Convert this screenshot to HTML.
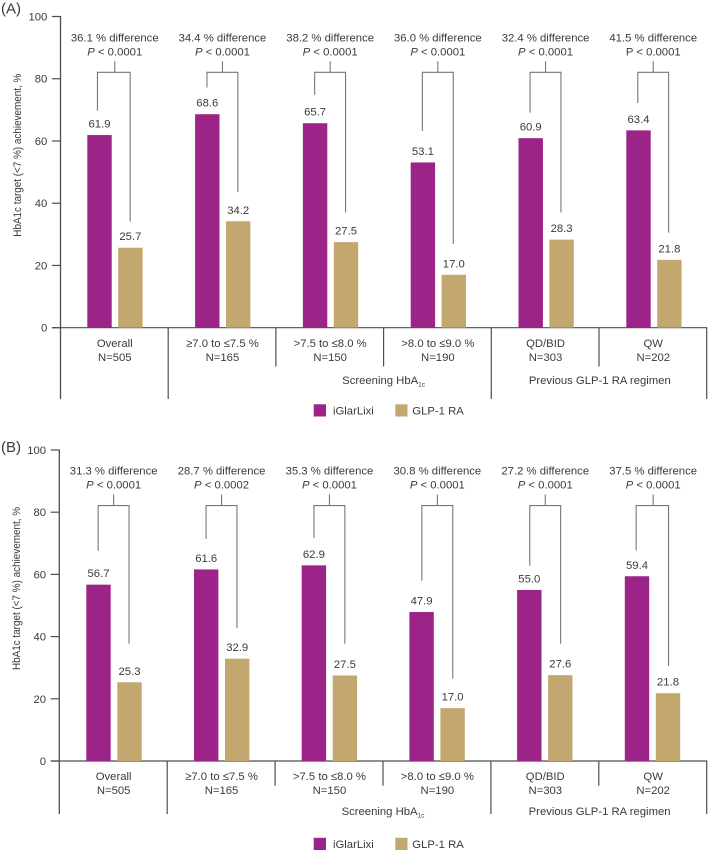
<!DOCTYPE html>
<html lang="en">
<head>
<meta charset="utf-8">
<title>HbA1c target achievement by subgroup</title>
<style>
html,body{margin:0;padding:0;background:#fff;width:709px;height:850px;overflow:hidden}
svg{display:block}
text{font-family:"Liberation Sans",sans-serif;font-size:11.3px;fill:#3a3a3a}
</style>
</head>
<body>
<svg id="chart" xmlns="http://www.w3.org/2000/svg" width="709" height="850" viewBox="0 0 709 850"></svg>
<script>
// Shared categories and axis ticks
const categoryNames = ["Overall", "≥7.0 to ≤7.5 %", ">7.5 to ≤8.0 %", ">8.0 to ≤9.0 %", "QD/BID", "QW"];
const categoryCounts = ["N=505", "N=165", "N=150", "N=190", "N=303", "N=202"];
const tickValues = [0, 20, 40, 60, 80, 100];

// Panel A series
const iglarA = [61.9, 68.6, 65.7, 53.1, 60.9, 63.4];
const glpA = [25.7, 34.2, 27.5, 17.0, 28.3, 21.8];
const diffA = ["36.1", "34.4", "38.2", "36.0", "32.4", "41.5"];
const pValueA = ["0.0001", "0.0001", "0.0001", "0.0001", "0.0001", "0.0001"];
const bracketLeftEndA = [69.7, 77.2, 74.8, 63.2, 69.1, 72.2];
const bracketRightEndA = [34.1, 43.6, 37.0, 26.9, 37.0, 30.5];

// Panel B series
const iglarB = [56.7, 61.6, 62.9, 47.9, 55.0, 59.4];
const glpB = [25.3, 32.9, 27.5, 17.0, 27.6, 21.8];
const diffB = ["31.3", "28.7", "35.3", "30.8", "27.2", "37.5"];
const pValueB = ["0.0001", "0.0002", "0.0001", "0.0001", "0.0001", "0.0001"];
const bracketLeftEndB = [67.6, 71.4, 71.7, 58.0, 62.8, 67.7];
const bracketRightEndB = [37.7, 42.7, 37.7, 26.5, 37.7, 30.6];

const PURPLE = "#9c2387";
const TAN = "#c2a76f";
const AXIS = "#4e4e4e";
const BRACKET = "#777777";
const svg = document.getElementById("chart");
const NS = "http://www.w3.org/2000/svg";

function make(parent, tag, attrs, content) {
  const el = document.createElementNS(NS, tag);
  for (const k in attrs) el.setAttribute(k, attrs[k]);
  if (content !== undefined) el.textContent = content;
  parent.appendChild(el);
  return el;
}

function drawPanel(p) {
  const g = make(svg, "g", {});
  
  

  const yScale = v => p.y0 - v * p.pxPerUnit;
  const barX = (i, series) => p.barStart + i * p.barStep + series * p.barGap;
  const cellEdge = i => p.axisX + i * p.cellStep;
  const cellMid = i => cellEdge(i) + p.cellStep / 2 + 0.4;

  const letter = make(g, "text", {x: 1, y: p.letterY, style: "font-size:15px"}, p.letter);
  
  

  const title = make(g, "text", {
    x: 0, y: 0, "text-anchor": "middle", textLength: 163, lengthAdjust: "spacingAndGlyphs",
    style: "font-size:10.6px",
    transform: "translate(" + p.titleX + " " + (p.y0 - 172.5) + ") rotate(-90)"
  }, "HbA1c target (<7 %) achievement, %");
  
  

  const yAxis = make(g, "line", {x1: p.axisX, x2: p.axisX, y1: yScale(100) - 0.5, y2: p.y0 + p.longDrop, stroke: AXIS, "stroke-width": 1.3});
  
  

  tickValues.forEach(t => {
    const tick = make(g, "line", {x1: p.axisX - 8.6, x2: p.axisX, y1: yScale(t), y2: yScale(t), stroke: AXIS, "stroke-width": 1.2});
    
    
    const lab = make(g, "text", {x: p.axisX - 13.2, y: yScale(t) + 4, "text-anchor": "end"}, String(t));
    
    
  });

  const xAxis = make(g, "line", {x1: p.axisX - 8.6, x2: cellEdge(6) + 0.5, y1: p.y0, y2: p.y0, stroke: AXIS, "stroke-width": 1.2});
  
  

  for (let i = 1; i <= 6; i++) {
    const isShort = i === 2 || i === 3 || i === 5;
    const divider = make(g, "line", {x1: cellEdge(i), x2: cellEdge(i), y1: p.y0, y2: p.y0 + (isShort ? p.shortDrop : p.longDrop), stroke: AXIS, "stroke-width": 1.2});
    
    
  }

  categoryNames.forEach((name, i) => {
    const mid = cellMid(i);

    const iglarBar = make(g, "rect", {x: barX(i, 0), y: yScale(p.iglar[i]), width: 24.4, height: p.iglar[i] * p.pxPerUnit, fill: PURPLE});
    
    

    const glpBar = make(g, "rect", {x: barX(i, 1), y: yScale(p.glp[i]), width: 24.4, height: p.glp[i] * p.pxPerUnit, fill: TAN});
    
    

    const iglarValue = make(g, "text", {x: barX(i, 0) + 12.2, y: yScale(p.iglar[i]) - 7.5, "text-anchor": "middle"}, p.iglar[i].toFixed(1));
    
    

    const glpValue = make(g, "text", {x: barX(i, 1) + 12.2, y: yScale(p.glp[i]) - 7.5, "text-anchor": "middle"}, p.glp[i].toFixed(1));
    
    

    const left = mid - 15.5 + (i === p.shiftIndex ? p.shiftBy : 0);
    const right = mid + 15.4;
    const top = p.y0 - 255.4;
    const stemTop = p.y0 - 266.5;
    const pathD = "M" + left + " " + yScale(p.bracketLeft[i]) + "V" + top + "H" + right + "V" + yScale(p.bracketRight[i]) + "M" + mid + " " + stemTop + "V" + top;
    const bracket = make(g, "path", {d: pathD, fill: "none", stroke: BRACKET, "stroke-width": 1.1});
    
    

    const diffLabel = make(g, "text", {x: mid, y: p.y0 - 286.3, "text-anchor": "middle"}, p.diff[i] + " % difference");
    
    

    const pLabel = make(g, "text", {x: mid, y: p.y0 - 272.4, "text-anchor": "middle"});
    
    
    make(pLabel, "tspan", {"font-style": i === p.uprightP ? "normal" : "italic"}, "P");
    make(pLabel, "tspan", {}, " < " + p.pValue[i]);

    const cat = make(g, "text", {x: mid, y: p.y0 + 19.2, "text-anchor": "middle"}, name);
    
    

    const count = make(g, "text", {x: mid, y: p.y0 + 33.1, "text-anchor": "middle"}, categoryCounts[i]);
    
    
  });

  const screening = make(g, "text", {x: cellEdge(3), y: p.y0 + p.sectionDrop, "text-anchor": "middle"}, "Screening HbA");
  
  
  make(screening, "tspan", {dy: 2.5, style: "font-size:6.5px"}, "1c");

  const previous = make(g, "text", {x: cellEdge(5) + 0.8, y: p.y0 + p.sectionDrop, "text-anchor": "middle"}, "Previous GLP-1 RA regimen");
  
  

  const legend = make(g, "g", {});
  
  

  const sw1 = make(legend, "rect", {x: 313.7, y: p.legendY, width: 12.3, height: 12.2, fill: PURPLE});
  
  
  const lt1 = make(legend, "text", {x: 333, y: p.legendY + 10}, "iGlarLixi");
  
  

  const sw2 = make(legend, "rect", {x: 395.3, y: p.legendY, width: 12.2, height: 12.2, fill: TAN});
  
  
  const lt2 = make(legend, "text", {x: 412.3, y: p.legendY + 10}, "GLP-1 RA");
  
  
}

drawPanel({
  id: "panel-a", letter: "(A)", letterY: 13.5, titleX: 21,
  y0: 327.7, pxPerUnit: 3.112, axisX: 60.5, cellStep: 107.7,
  barStart: 87.3, barStep: 107.8, barGap: 30.9,
  longDrop: 71.3, shortDrop: 38.8, sectionDrop: 56.3, legendY: 404.3,
  shiftIndex: 0, shiftBy: -1.8, uprightP: 5,
  iglar: iglarA, glp: glpA, diff: diffA, pValue: pValueA,
  bracketLeft: bracketLeftEndA, bracketRight: bracketRightEndA
});

drawPanel({
  id: "panel-b", letter: "(B)", letterY: 452, titleX: 20,
  y0: 761, pxPerUnit: 3.11, axisX: 59.3, cellStep: 107.9,
  barStart: 86.3, barStep: 107.7, barGap: 31,
  longDrop: 53, shortDrop: 24.7, sectionDrop: 54, legendY: 837.8,
  shiftIndex: 5, shiftBy: -1.5, uprightP: -1,
  iglar: iglarB, glp: glpB, diff: diffB, pValue: pValueB,
  bracketLeft: bracketLeftEndB, bracketRight: bracketRightEndB
});
</script>
</body>
</html>
